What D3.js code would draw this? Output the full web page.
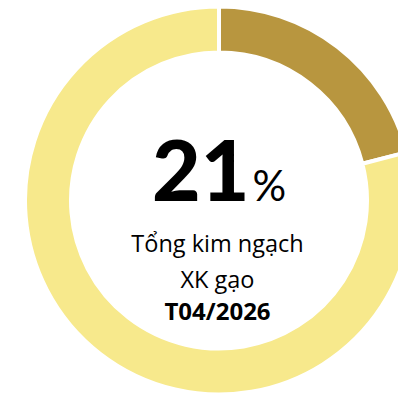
<!DOCTYPE html>
<html>
<head>
<meta charset="utf-8">
<script src="https://cdn.jsdelivr.net/npm/d3@7"></script>
<style>
  html, body { margin: 0; padding: 0; background: #fff; }
  svg { display: block; }
  text { fill: #000; }
</style>
</head>
<body>
<svg id="chart" width="398" height="395"></svg>
<script>
// Share of rice exports in total export turnover
const categories = ["Gạo", "Còn lại"];
const values = [21, 79];
const colors = ["#b8963f", "#f7e98c"];
const shareLabel = values[0];
const captionLines = ["Tổng kim ngạch", "XK gạo"];
const periodLabel = "T04/2026";

const svg = d3.select("#chart");
const cx = 219, cy = 200.5;
const outerR = 194, innerR = 148;

const pie = d3.pie().sort(null).value(d => d);
const arc = d3.arc().innerRadius(innerR).outerRadius(outerR);

const g = svg.append("g").attr("transform", `translate(${cx},${cy})`);

g.selectAll("path.slice")
  .data(pie(values))
  .join("path")
  .attr("class", "slice")
  .attr("d", arc)
  .attr("fill", (d, i) => colors[i])
  .attr("stroke", "#fff")
  .attr("stroke-width", 4)
  .attr("stroke-linejoin", "miter");

// centre label: big percentage
const big = g.append("text")
  .attr("text-anchor", "middle")
  .attr("font-family", "Lato, sans-serif")
  .attr("y", 0);
big.append("tspan")
  .attr("font-weight", 900)
  .attr("font-size", 84)
  .text(shareLabel);
big.append("tspan")
  .attr("font-weight", 400)
  .attr("font-size", 42)
  .attr("dx", 3)
  .text("%");

// caption lines
const lineY = [51.5, 87.5];
captionLines.forEach((t, i) => {
  g.append("text")
    .attr("text-anchor", "middle")
    .attr("font-family", "'Open Sans', sans-serif")
    .attr("x", -1.5)
    .attr("y", lineY[i])
    .attr("font-size", 23.5)
    .text(t);
});
g.append("text")
  .attr("text-anchor", "middle")
  .attr("font-family", "'Open Sans', sans-serif")
  .attr("x", -1.5)
  .attr("y", 119.5)
  .attr("font-size", 24)
  .attr("font-weight", 700)
  .text(periodLabel);
</script>
</body>
</html>
